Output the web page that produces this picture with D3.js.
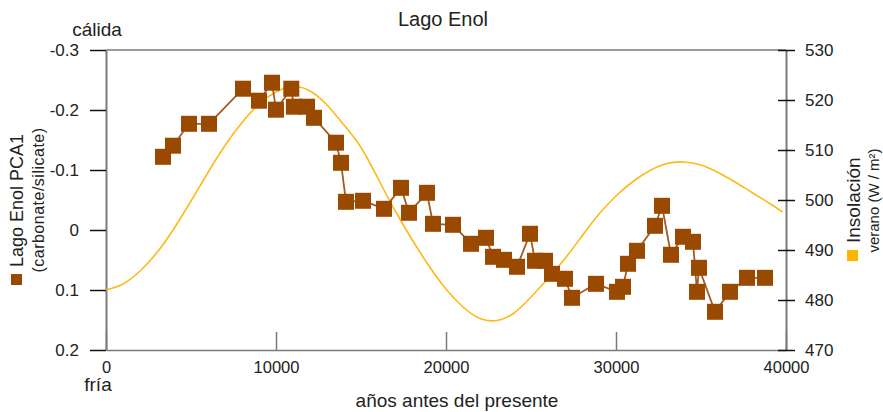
<!DOCTYPE html>
<html>
<head>
<meta charset="utf-8">
<script src="https://cdn.jsdelivr.net/npm/d3@7"></script>
<style>
  html, body { margin: 0; padding: 0; background: #fff; }
  svg { display: block; font-family: "Liberation Sans", Arial, sans-serif; }
</style>
</head>
<body>
<svg id="chart" width="883" height="412"></svg>
<script>
// ---- data ----
const pcaYears = [3353, 3941, 4882, 6059, 8059, 9000, 9765, 10000, 10900, 11050, 11824, 12235, 13529, 13824, 14118,
  15118, 16353, 17353, 17824, 18882, 19235, 20412, 21471, 22353, 22765, 23412, 24176, 24941, 25235, 25824,
  26235, 27000, 27412, 28824, 30059, 30412, 30706, 31235, 32294, 32706, 33235, 33941, 34529, 34765, 34882,
  35824, 36706, 37706, 38765];
const pcaValues = [-0.122, -0.1405, -0.177, -0.177, -0.2355, -0.2155, -0.2455, -0.2005, -0.2355, -0.2055, -0.2055, -0.187, -0.1455, -0.112, -0.047,
  -0.0487, -0.0353, -0.0703, -0.0287, -0.062, -0.0103, -0.0087, 0.023, 0.013, 0.0447, 0.0497, 0.0613, 0.0063, 0.0513, 0.0513,
  0.073, 0.0813, 0.113, 0.0897, 0.103, 0.0947, 0.0563, 0.0347, -0.007, -0.0403, 0.0413, 0.0113, 0.0197, 0.103, 0.063,
  0.1363, 0.103, 0.0797, 0.0797];

const insolYears = [0, 1000, 2000, 3000, 4000, 5000, 6000, 7000, 8000, 9000, 10000, 11000, 12000, 13000, 14000,
  15000, 16000, 17000, 18000, 19000, 20000, 21000, 22000, 23000, 24000, 25000, 26000, 27000, 28000, 29000,
  30000, 31000, 32000, 33000, 34000, 35000, 36000, 37000, 38000, 39000, 39800];
const insolValues = [482.0, 483.2, 485.8, 489.5, 494.3, 499.8, 505.5, 510.9, 515.5, 519.2, 521.6, 522.7, 521.8, 519.0, 515.0,
  510.5, 504.3, 497.9, 492.1, 486.8, 482.2, 478.6, 476.3, 475.9, 477.4, 480.6, 484.3, 488.3, 492.8, 497.2,
  500.8, 503.7, 505.9, 507.3, 507.6, 507.0, 505.5, 503.6, 501.5, 499.4, 497.6];

const xTicks = [0, 10000, 20000, 30000, 40000];
const yLeftTicks = [-0.3, -0.2, -0.1, 0, 0.1, 0.2];
const yRightTicks = [470, 480, 490, 500, 510, 520, 530];

// ---- layout ----
const svg = d3.select("#chart");
const x = d3.scaleLinear().domain([0, 40000]).range([106, 786]);
const yL = d3.scaleLinear().domain([-0.3, 0.2]).range([50, 350]);
const yR = d3.scaleLinear().domain([470, 530]).range([350, 50]);

const brown = "#9a4a00";
const brownLine = "#a35a24";
const gold = "#ffb816";
const axisGray = "#7a7a7a";

// frame top
svg.append("line").attr("x1", x(0)).attr("x2", x(40000)).attr("y1", 50).attr("y2", 50)
  .attr("stroke", axisGray).attr("stroke-width", 1.5);

// bottom axis
const gx = svg.append("g").attr("transform", "translate(0,350)")
  .call(d3.axisBottom(x).tickValues(xTicks).tickFormat(d3.format("d")).tickSize(-18).tickSizeOuter(0).tickPadding(11));
gx.select(".domain").attr("stroke", axisGray).attr("stroke-width", 1.5);
gx.selectAll(".tick line").attr("stroke", axisGray).attr("stroke-width", 1.5);
gx.selectAll(".tick text").attr("font-size", 16.5).attr("fill", "#222").attr("font-family", "Liberation Sans, Arial, sans-serif");

// left axis
const gl = svg.append("g").attr("transform", "translate(106,0)")
  .call(d3.axisLeft(yL).tickValues(yLeftTicks).tickFormat(d => String(d)).tickSize(16).tickSizeOuter(0).tickPadding(11));
gl.select(".domain").attr("stroke", axisGray).attr("stroke-width", 2);
gl.selectAll(".tick line").attr("stroke", "#111").attr("stroke-width", 1.5);
gl.selectAll(".tick text").attr("font-size", 17).attr("fill", "#222").attr("font-family", "Liberation Sans, Arial, sans-serif");

// right axis
const gr = svg.append("g").attr("transform", "translate(786,0)")
  .call(d3.axisRight(yR).tickValues(yRightTicks).tickFormat(d3.format("d")).tickSize(9).tickSizeOuter(0).tickPadding(10));
gr.select(".domain").attr("stroke", axisGray).attr("stroke-width", 2);
gr.selectAll(".tick line").attr("x1", -8).attr("x2", 9).attr("stroke", "#111").attr("stroke-width", 1.5);
gr.selectAll(".tick text").attr("font-size", 17).attr("fill", "#222").attr("font-family", "Liberation Sans, Arial, sans-serif");

// insolation curve
const insol = insolYears.map((t, i) => [t, insolValues[i]]);
svg.append("path").datum(insol)
  .attr("fill", "none").attr("stroke", gold).attr("stroke-width", 1.6)
  .attr("d", d3.line().x(d => x(d[0])).y(d => yR(d[1])).curve(d3.curveNatural));

// PCA series
const pca = pcaYears.map((t, i) => [t, pcaValues[i]]);
svg.append("path").datum(pca)
  .attr("fill", "none").attr("stroke", brownLine).attr("stroke-width", 1.8)
  .attr("d", d3.line().x(d => x(d[0])).y(d => yL(d[1])));
const sz = 16;
svg.append("g").selectAll("rect").data(pca).join("rect")
  .attr("x", d => x(d[0]) - sz / 2).attr("y", d => yL(d[1]) - sz / 2)
  .attr("width", sz).attr("height", sz).attr("fill", brown);

// titles
svg.append("text").attr("x", 443).attr("y", 26).attr("text-anchor", "middle")
  .attr("font-size", 20).attr("fill", "#222").text("Lago Enol");
svg.append("text").attr("x", 97).attr("y", 36).attr("text-anchor", "middle")
  .attr("font-size", 19).attr("fill", "#222").text("cálida");
svg.append("text").attr("x", 98).attr("y", 391).attr("text-anchor", "middle")
  .attr("font-size", 19).attr("fill", "#222").text("fría");
svg.append("text").attr("x", 457).attr("y", 407).attr("text-anchor", "middle")
  .attr("font-size", 19).attr("fill", "#222").text("años antes del presente");

// left legend
svg.append("rect").attr("x", 11).attr("y", 274).attr("width", 11).attr("height", 11).attr("fill", brown);
svg.append("text").attr("transform", "translate(23,267) rotate(-90)").attr("text-anchor", "start")
  .attr("font-size", 18).attr("fill", "#222").text("Lago Enol PCA1");
svg.append("text").attr("transform", "translate(44,200) rotate(-90)").attr("text-anchor", "middle")
  .attr("font-size", 16).attr("letter-spacing", 0.5).attr("fill", "#222").text("(carbonate/silicate)");

// right legend
svg.append("rect").attr("x", 847).attr("y", 250).attr("width", 11).attr("height", 11).attr("fill", "#ffb400");
svg.append("text").attr("transform", "translate(860,243) rotate(-90)").attr("text-anchor", "start")
  .attr("font-size", 19).attr("fill", "#222").text("Insolación");
svg.append("text").attr("transform", "translate(879,200.5) rotate(-90)").attr("text-anchor", "middle")
  .attr("font-size", 15).attr("fill", "#222").text("verano (W / m²)");
</script>
</body>
</html>
